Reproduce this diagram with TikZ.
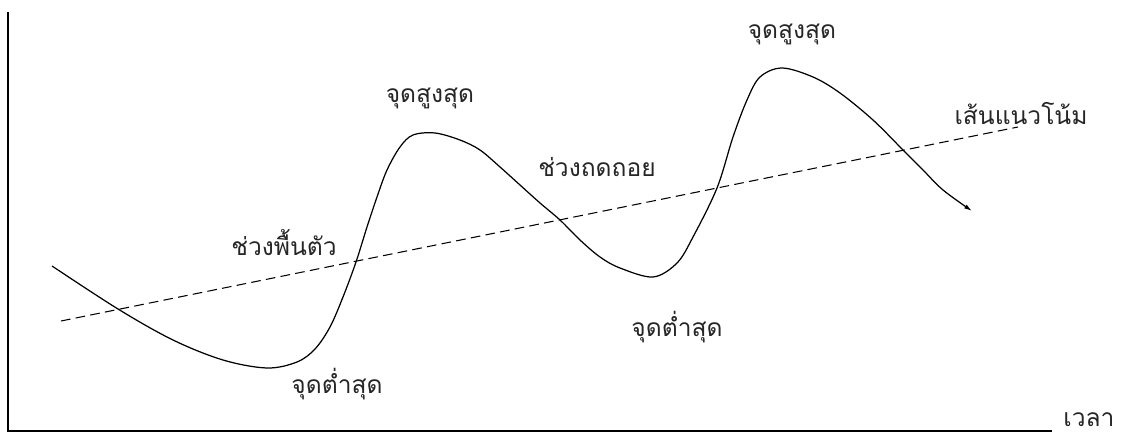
\documentclass[tikz,border=0pt]{standalone}
\usepackage{fontspec}
\newfontfamily\thaifont[Script=Thai]{Loma}
\usetikzlibrary{arrows.meta,positioning}

\begin{document}
\begin{tikzpicture}[x=0.02cm, y=-0.02cm,
  lbl/.style={inner sep=0pt, font=\thaifont\fontsize{14}{16}\selectfont, text=black!85},
  axis/.style={line width=0.7pt},
  trend/.style={line width=0.6pt, dash pattern=on 5.5pt off 3pt},
  cycle/.style={line width=0.7pt, -{Latex[length=4.5pt,width=2.6pt]}}
]
  \useasboundingbox (0,0) rectangle (1123,439);
  % axes
  \coordinate (top) at (8,12);
  \coordinate (origin) at (8,431);
  \coordinate (tend) at (1052,431);
  \draw[axis] (top) -- (origin) -- (tend);
  \node[lbl, anchor=west] (time) at (1063,420) {เวลา};
  % trend line
  \coordinate (trendA) at (61,321);
  \coordinate (trendB) at (1018,127);
  \draw[trend] (trendA) -- (trendB);
  \node[lbl] (trendlbl) at (1021,113) {เส้นแนวโน้ม};
  % business cycle
  \draw[cycle] plot[smooth, tension=0.55] coordinates {
    (52,266) (118,309) (173,340) (223,360) (267,368) (297,362) (315,349)
    (330,327) (343,297) (356,262) (367,227) (377,197) (387,170) (400,147)
    (413,135) (435,133) (460,140) (480,150) (500,167) (520,185) (540,203)
    (560,220) (580,240) (600,257) (620,268) (653,277) (677,263) (693,237)
    (717,188) (733,137) (747,100) (760,77) (782,68) (813,77) (840,93)
    (873,120) (903,150) (923,170) (943,190) (972,211)};
  % labels
  \node[lbl] (peak1) at (430,98) {จุดสูงสุด};
  \node[lbl] (peak2) at (792,34) {จุดสูงสุด};
  \node[lbl] (trough1) at (337,384) {จุดต่ำสุด};
  \node[lbl] (trough2) at (677,327) {จุดต่ำสุด};
  \node[lbl] (recov) at (284,243) {ช่วงพื้นตัว};
  \node[lbl] (reces) at (597,167) {ช่วงถดถอย};
\end{tikzpicture}
\end{document}
